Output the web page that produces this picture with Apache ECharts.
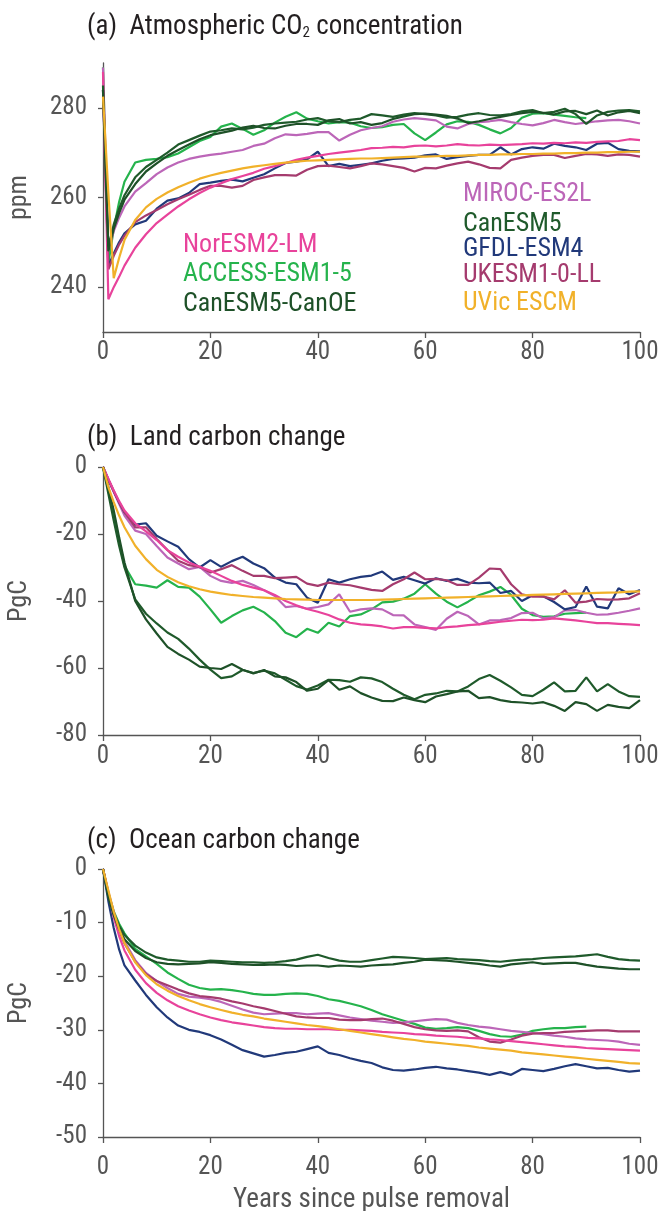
<!DOCTYPE html>
<html><head><meta charset="utf-8">
<script src="https://cdn.jsdelivr.net/npm/echarts@6.0.0/dist/echarts.min.js"></script>
<style>html,body{margin:0;padding:0;background:#fff}#c{width:659px;height:1211px}</style>
</head><body><div id="c"></div><script>
// ---------- data ----------
const years = [0,1,2,3,4,6,8,10,12,14,16,18,20,22,24,26,28,30,32,34,36,38,40,42,44,46,48,50,52,54,56,58,60,62,64,66,68,70,72,74,76,78,80,82,84,86,88,90,92,94,96,98,100];
const models = ['NorESM2-LM','ACCESS-ESM1-5','CanESM5-CanOE','MIROC-ES2L','CanESM5','GFDL-ESM4','UKESM1-0-LL','UVic ESCM'];
const xTicks = [0,20,40,60,80,100];
const co2Ticks = [240,260,280];

// (a) atmospheric CO2 (ppm)
const co2_NorESM = [288,237.3,240,242.3,244.8,248.8,251.8,254.3,256.2,258,259.6,261,262.2,263.2,264.1,264.8,265.5,266.4,267,267.7,268.4,268.9,269.3,269.7,270,270.3,270.6,271,271.1,271.3,271.2,271.5,271.6,271.4,271.6,271.9,271.7,271.6,271.8,271.7,271.8,271.9,272.1,272,272.2,272.1,272.3,272.2,272.4,272.5,272.6,273,272.8];
const co2_ACCESS = [289,245.3,253,259,263.5,267.8,268.4,268.6,269,269.8,271.2,272.6,273.5,275.8,276.5,275.3,274,275,276.7,278,279,277.6,277,276.5,276.8,276.7,275.9,275.5,275.7,276.2,276.4,274.3,272.8,274.5,276.3,277,276.9,276.2,275.2,274.3,275.5,277.8,278.7,278.8,278.5,278.2,277.9,277.7];
const co2_CanOE = [284,248,253,256.5,259.5,263,265.8,267.6,269.3,270.6,271.8,273,273.9,274.4,274.9,275.6,276,275.5,275.4,276,276.4,276.4,276.2,277.2,277.5,276.5,276.8,276.2,276.6,277.5,278.1,278.6,278.7,278.5,278.2,277.6,276.6,277,277.5,278,278.4,278.8,279.1,278.9,278.5,279.2,279.3,278.6,279.4,278.3,279,279.3,278.8];
const co2_MIROC = [289,248,252.5,255.5,258,261.3,263.2,265.2,266.7,267.8,268.6,269.1,269.5,269.8,270.2,270.6,271.5,272,273.2,274.1,273.9,274.2,274.6,274.6,272.7,274,275,275.5,275.9,276.9,277.4,277.7,277.5,277.2,275.8,275.4,276.4,276.8,277,277.3,276.8,276.4,276.1,276.6,277.3,276.8,276.4,276.7,277,277.2,277.3,277,276.5];
const co2_CanESM5 = [285,249,254,257.5,260.5,264.5,266.8,268.4,270,271.8,272.8,273.8,274.7,275,275.4,275.2,275.6,276.2,276.5,276.7,276.9,277.4,277.7,277,276.8,277.3,277.6,278.6,278.3,278,278.5,278.8,278.6,278.3,277.8,278,278.5,278.8,278.4,278.3,278.6,279.2,279.5,278.8,279.1,279.8,278.6,276.4,278.3,279.1,279.4,279.5,279.2];
const co2_GFDL = [284,244.6,247.5,250,252,254,254.8,257.5,259.3,259.8,261,263,263.3,263.7,264,263.6,264.4,265.2,266.5,267.7,268,268.5,270.2,267,267.5,267,267.3,267.6,268.2,268.6,268.7,268.9,269.4,269.6,268.6,269,269.3,269.5,269.5,271.2,269.6,270.8,271.2,270.9,272,271.5,271.2,270.6,272,272.2,270.8,270.4,270.3];
const co2_UKESM = [284,244,247,249.5,251.5,254.5,256,257.2,258.5,259.6,260.6,261.7,262.6,262.6,262.2,262.6,263.9,264.5,265,265,264.9,266.2,267,267.1,266.8,266.5,267,267.6,267.4,267,266.6,265.8,266.6,266.5,267.1,267.6,268,267.4,266.6,266.5,268.4,268.9,269.3,269.5,269.5,268.8,269.3,269.7,269.6,269.3,269.6,269.5,269.1];
const co2_UVic = [282.5,261,242,246.5,250.5,255,257.8,259.7,261.1,262.3,263.3,264.2,264.9,265.5,266,266.5,266.9,267.2,267.5,267.8,268,268.2,268.3,268.4,268.5,268.6,268.7,268.7,268.8,268.9,269,269.1,269.1,269.2,269.3,269.3,269.4,269.5,269.5,269.6,269.6,269.7,269.7,269.8,269.8,269.9,269.9,270,270,270.1,270.1,270.2,270.2];

// (b) land carbon change (PgC)
const land_NorESM = [0,-3.5,-7,-10.2,-13,-16.8,-19.2,-21.8,-24.8,-26.8,-28.5,-29.8,-31,-32.5,-34,-35.2,-36,-36.8,-38.2,-40,-41.3,-42.4,-43.2,-44.2,-45.5,-46.5,-47,-47.2,-47.6,-48.2,-47.8,-47.8,-48,-48.2,-47.8,-47.6,-47.2,-47,-46.6,-46.2,-45.9,-45.6,-45.7,-45.6,-45.2,-45.5,-45.8,-46.2,-46.6,-46.6,-46.8,-47,-47.2];
const land_ACCESS = [0,-7,-14,-22,-29.5,-35,-35.4,-36,-33.8,-35.8,-36,-38.7,-42.5,-46.5,-44.5,-42.8,-41.7,-43.4,-46,-49.5,-50.8,-48.3,-49.5,-46.5,-47.6,-44.5,-44,-42.5,-40.4,-40.2,-39.3,-37.8,-35,-37.8,-40.2,-41.9,-40.2,-38.3,-37.2,-35.8,-38.2,-42.3,-44.2,-44.7,-44.6,-43.8,-43.6,-43.5];
const land_CanOE = [0,-6,-13,-21,-28.5,-40,-45.5,-49.7,-53.7,-55.8,-57.5,-59.6,-60,-60.3,-58.8,-60.5,-61.6,-60.6,-62.5,-62.8,-64.2,-66.8,-66.2,-63.6,-66.5,-65.5,-67.5,-68.8,-69.8,-69.9,-68.8,-69.6,-70.2,-68.5,-67.8,-67,-66.8,-69,-68.7,-69.6,-70.1,-70.3,-70.6,-70.2,-71.3,-72.8,-70.2,-70.8,-72.8,-71,-71.6,-72,-69.6];
const land_MIROC = [0,-3.8,-7.5,-11,-14.5,-19,-20,-23.6,-27,-28.8,-30.5,-29.8,-32.5,-34,-34.6,-34,-35.2,-36.8,-38.5,-41.8,-41.5,-42.3,-41.8,-41,-38,-43.2,-42.5,-42.2,-42.5,-44.2,-44.3,-47,-47.8,-48.6,-45.3,-43.2,-44.5,-47,-45.8,-45.7,-45.1,-43.6,-43.5,-45.2,-44.8,-42.8,-42.7,-43.5,-44.1,-44,-43.5,-42.9,-42.2];
const land_CanESM5 = [0,-8,-16,-23.5,-30,-39.5,-43.8,-46.7,-49.4,-51.3,-54.2,-57.5,-60.5,-63,-62.5,-60.6,-61.5,-60.8,-61.6,-63.5,-65.4,-66.4,-65.2,-63.5,-63.6,-64.1,-62.8,-63.1,-64.2,-66.2,-68,-69.3,-68,-67.6,-66.8,-67,-65.5,-63.3,-62.1,-63.8,-65.8,-68,-68.4,-66.5,-64.3,-67,-66.8,-62.8,-67,-64.8,-67,-68.4,-68.6];
const land_GFDL = [0,-3.8,-7.2,-10.5,-13.5,-17.2,-16.8,-20.5,-22.2,-23.8,-27.5,-30,-27.8,-29.8,-28.1,-26.8,-28.8,-30.2,-33,-34.5,-35,-39,-40.5,-33.5,-34.5,-33.5,-32.8,-32.4,-31.2,-33.7,-32.8,-33.8,-34.8,-33.2,-34,-33.4,-34.5,-34.7,-34.5,-37.6,-37,-40,-38.3,-38.6,-40.3,-42.5,-41.8,-35.7,-41.7,-42.2,-36.2,-38,-36.7];
const land_UKESM = [0,-3.8,-7.2,-10.5,-13.5,-18,-18,-21.5,-24.8,-28,-29.3,-29.8,-31.5,-30.5,-29.3,-31,-32.5,-32.5,-33.2,-33,-32.8,-34.8,-35.5,-34.5,-35,-35.3,-36,-36.7,-37,-35,-33.5,-31.5,-33.5,-33.4,-33.8,-35.2,-35.2,-33,-30.3,-30.5,-35,-38,-38.7,-38.7,-39.5,-36.8,-40.5,-40.2,-39.4,-39.6,-39.5,-39.2,-37.7];
const land_UVic = [0,-6,-10.5,-14.5,-18,-23.5,-27.5,-30.7,-32.8,-34.4,-35.6,-36.5,-37.2,-37.7,-38.2,-38.5,-38.8,-39,-39.2,-39.4,-39.5,-39.6,-39.7,-39.7,-39.7,-39.7,-39.7,-39.7,-39.6,-39.5,-39.4,-39.3,-39.2,-39.1,-39,-38.9,-38.8,-38.7,-38.6,-38.5,-38.4,-38.3,-38.2,-38.1,-38,-37.9,-37.8,-37.7,-37.6,-37.5,-37.4,-37.2,-37.1];

// (c) ocean carbon change (PgC)
const ocean_NorESM = [0,-4.5,-9,-12.5,-15.2,-18.8,-21.3,-23.1,-24.5,-25.6,-26.4,-27.1,-27.7,-28.2,-28.6,-28.9,-29.2,-29.5,-29.7,-29.8,-29.8,-29.9,-29.9,-29.9,-30,-30,-30.1,-30.2,-30.4,-30.5,-30.6,-30.8,-30.9,-31.1,-31.2,-31.3,-31.5,-31.6,-31.8,-31.9,-32.1,-32.3,-32.5,-32.7,-32.9,-33.1,-33.2,-33.4,-33.5,-33.6,-33.7,-33.8,-33.9];
const ocean_ACCESS = [0,-4.5,-7.9,-10.2,-12,-14.9,-16.3,-17.7,-19.3,-20.5,-21.6,-22.2,-22.5,-22.4,-22.6,-22.9,-23.3,-23.5,-23.5,-23.3,-23.2,-23.3,-23.7,-24.3,-24.6,-25.1,-25.6,-26.3,-27.1,-27.7,-28.3,-28.9,-29.6,-29.8,-29.7,-29.5,-29.7,-30.2,-30.8,-31.2,-31.3,-30.9,-30.2,-29.9,-29.7,-29.7,-29.5,-29.4];
const ocean_CanOE = [0,-5.3,-8.6,-11.2,-13.1,-15.3,-16.6,-17.4,-17.7,-17.8,-17.7,-17.6,-17.4,-17.5,-17.7,-17.8,-17.9,-17.9,-17.8,-17.9,-18.1,-18,-18,-18.2,-18,-18.1,-18.2,-18,-17.9,-17.8,-17.5,-17.3,-16.9,-17,-17.1,-17.3,-17.5,-17.7,-18,-18.2,-17.8,-17.6,-17.4,-17.7,-17.6,-17.5,-17.5,-17.9,-18.2,-18.4,-18.6,-18.7,-18.7];
const ocean_MIROC = [0,-4.3,-8,-11,-13.5,-17,-19.4,-20.9,-22.2,-23.3,-23.8,-24,-24.3,-24.8,-25.5,-26.2,-26.8,-27.1,-27,-26.9,-26.9,-27.1,-27,-26.9,-27.3,-27.7,-28,-28.3,-28.5,-28.7,-28.6,-28.4,-28.2,-28,-28.1,-28.7,-29.1,-29.4,-29.6,-29.9,-30.2,-30.4,-30.6,-30.8,-31.1,-31.3,-31.6,-31.8,-31.9,-32,-32.2,-32.6,-32.8];
const ocean_CanESM5 = [0,-5,-8.2,-10.6,-12.3,-14.3,-15.6,-16.5,-16.9,-17.1,-17.3,-17.3,-17.1,-17.2,-17.3,-17.4,-17.4,-17.5,-17.4,-17.2,-16.9,-16.4,-16,-16.6,-17.1,-17.3,-17.3,-17,-16.7,-16.4,-16.5,-16.6,-16.8,-16.7,-16.6,-16.8,-16.9,-17,-17.2,-17.3,-17.1,-16.9,-16.8,-16.6,-16.5,-16.4,-16.3,-16.1,-15.9,-16.4,-16.8,-17,-17.1];
const ocean_GFDL = [0,-6,-11,-15,-18,-20.8,-23.5,-25.8,-27.7,-29.2,-30,-30.4,-31,-31.8,-32.8,-33.8,-34.4,-35,-34.7,-34.3,-34.1,-33.6,-33.1,-34.3,-34.7,-35.3,-35.8,-36.2,-37,-37.5,-37.6,-37.4,-37.1,-36.9,-37.2,-37.4,-37.7,-38,-38.4,-37.9,-38.4,-37.3,-37.5,-37.7,-37.3,-36.8,-36.4,-36.8,-37.2,-37.1,-37.5,-37.8,-37.6];
const ocean_UKESM = [0,-4.5,-8.3,-11.4,-13.9,-17.3,-19.6,-20.9,-21.7,-22.5,-23.2,-23.7,-23.9,-24.2,-24.7,-25.1,-25.6,-26,-26.5,-27,-27.5,-27.7,-27.8,-27.8,-28.1,-28.2,-28.2,-28,-27.9,-28.3,-28.9,-29.5,-29.9,-30.1,-30.2,-30.1,-30.3,-31.4,-32.2,-32.4,-31.8,-31.1,-30.7,-30.6,-30.6,-30.4,-30.3,-30.2,-30.1,-30.1,-30.3,-30.3,-30.3];
const ocean_UVic = [0,-4,-8,-11.2,-13.8,-17.4,-19.8,-21.5,-22.7,-23.7,-24.5,-25.2,-25.8,-26.3,-26.8,-27.2,-27.5,-27.9,-28.2,-28.5,-28.8,-29.1,-29.3,-29.6,-29.9,-30.2,-30.5,-30.8,-31.1,-31.4,-31.7,-31.9,-32.2,-32.4,-32.6,-32.8,-33,-33.3,-33.5,-33.7,-33.9,-34.2,-34.4,-34.6,-34.8,-35,-35.2,-35.4,-35.6,-35.8,-36,-36.2,-36.3];

// ---------- styling ----------
const colors = {'NorESM2-LM':'#E8439B','ACCESS-ESM1-5':'#25B34C','CanESM5-CanOE':'#1E5128','MIROC-ES2L':'#BC66B8','CanESM5':'#1F5A2B','GFDL-ESM4':'#21397A','UKESM1-0-LL':'#A53B6E','UVic ESCM':'#F1B12A'};
const FONT = "'Roboto Condensed','Roboto',sans-serif";
const AX = '#555555';

const panels = [
  {'NorESM2-LM':co2_NorESM,'ACCESS-ESM1-5':co2_ACCESS,'CanESM5-CanOE':co2_CanOE,'MIROC-ES2L':co2_MIROC,'CanESM5':co2_CanESM5,'GFDL-ESM4':co2_GFDL,'UKESM1-0-LL':co2_UKESM,'UVic ESCM':co2_UVic},
  {'NorESM2-LM':land_NorESM,'ACCESS-ESM1-5':land_ACCESS,'CanESM5-CanOE':land_CanOE,'MIROC-ES2L':land_MIROC,'CanESM5':land_CanESM5,'GFDL-ESM4':land_GFDL,'UKESM1-0-LL':land_UKESM,'UVic ESCM':land_UVic},
  {'NorESM2-LM':ocean_NorESM,'ACCESS-ESM1-5':ocean_ACCESS,'CanESM5-CanOE':ocean_CanOE,'MIROC-ES2L':ocean_MIROC,'CanESM5':ocean_CanESM5,'GFDL-ESM4':ocean_GFDL,'UKESM1-0-LL':ocean_UKESM,'UVic ESCM':ocean_UVic}
];
const drawOrder = ['ACCESS-ESM1-5','MIROC-ES2L','GFDL-ESM4','UKESM1-0-LL','NorESM2-LM','CanESM5','CanESM5-CanOE','UVic ESCM'];

const series = [];
panels.forEach((p, gi) => {
  drawOrder.forEach(name => {
    const vals = p[name];
    series.push({
      type:'line', name, xAxisIndex:gi, yAxisIndex:gi,
      data: vals.map((v,k) => [years[k], v]),
      showSymbol:false, symbol:'none', smooth:false, silent:true,
      lineStyle:{width:2.2, color:colors[name]}, itemStyle:{color:colors[name]}
    });
  });
});

const grids = [
  {left:103, width:537, top:63, height:269},
  {left:103, width:537, top:467, height:268},
  {left:103, width:537, top:869, height:268}
].map(g => Object.assign({outerBoundsMode:'none', containLabel:false}, g));

function xAx(gi, margin, extra) {
  return Object.assign({
    gridIndex:gi, type:'value', min:xTicks[0], max:xTicks[xTicks.length-1], interval:20,
    axisLine:{show:true, onZero:false, lineStyle:{color:AX, width:1.3}},
    axisTick:{show:true, length:6, lineStyle:{color:AX, width:1.3}},
    axisLabel:{fontFamily:FONT, fontSize:25, color:AX, margin},
    splitLine:{show:false}
  }, extra || {});
}
function yAx(gi, extra) {
  return Object.assign({
    gridIndex:gi, type:'value',
    axisLine:{show:true, lineStyle:{color:AX, width:1.3}},
    axisTick:{show:true, length:5, lineStyle:{color:AX, width:1.3}},
    axisLabel:{fontFamily:FONT, fontSize:25, color:AX, margin:16},
    splitLine:{show:false},
    nameLocation:'middle', nameGap:71,
    nameTextStyle:{fontFamily:FONT, fontSize:26, color:AX}
  }, extra || {});
}

const yAxes = [
  yAx(0, {min:230, max:290, name:'ppm',
    axisTick:{show:true, length:5, customValues:co2Ticks, lineStyle:{color:AX, width:1.3}},
    axisLabel:{fontFamily:FONT, fontSize:25, color:AX, margin:16, customValues:co2Ticks}}),
  yAx(1, {min:-80, max:0, interval:20, name:'PgC'}),
  yAx(2, {min:-50, max:0, interval:10, name:'PgC'})
];
const xAxes = [
  xAx(0, 8),
  xAx(1, 9),
  xAx(2, 18, {name:'Years since pulse removal', nameLocation:'middle', nameGap:50,
    nameTextStyle:{fontFamily:FONT, fontSize:27, color:AX}})
];

const titleStyle = {fontFamily:FONT, fontSize:27, fontWeight:'normal', color:'#231F20', lineHeight:27,
  rich:{sub:{fontFamily:FONT, fontSize:15, color:'#231F20', lineHeight:2, verticalAlign:'bottom'}}};
const titles = [
  {text:'(a)  Atmospheric CO{sub|2} concentration', left:87, top:14, padding:0, textStyle:titleStyle},
  {text:'(b)  Land carbon change', left:87, top:425, padding:0, textStyle:titleStyle},
  {text:'(c)  Ocean carbon change', left:87, top:828, padding:0, textStyle:titleStyle}
];

// legend labels (coloured names inside panel a)
const legendPos = {
  'NorESM2-LM':[183,245], 'ACCESS-ESM1-5':[183,274], 'CanESM5-CanOE':[183,304],
  'MIROC-ES2L':[463,194], 'CanESM5':[463,224], 'GFDL-ESM4':[463,249], 'UKESM1-0-LL':[463,275], 'UVic ESCM':[463,303]
};
const graphics = models.map(name => ({
  type:'text', x:legendPos[name][0], y:legendPos[name][1], silent:true,
  style:{text:name, fill:colors[name], font:"26px " + FONT, verticalAlign:'middle', align:'left'}
}));

const chart = echarts.init(document.getElementById('c'), null, {renderer:'canvas'});
chart.setOption({
  animation:false,
  backgroundColor:'#ffffff',
  title:titles,
  grid:grids,
  xAxis:xAxes,
  yAxis:yAxes,
  graphic:graphics,
  series
});
</script></body></html>
